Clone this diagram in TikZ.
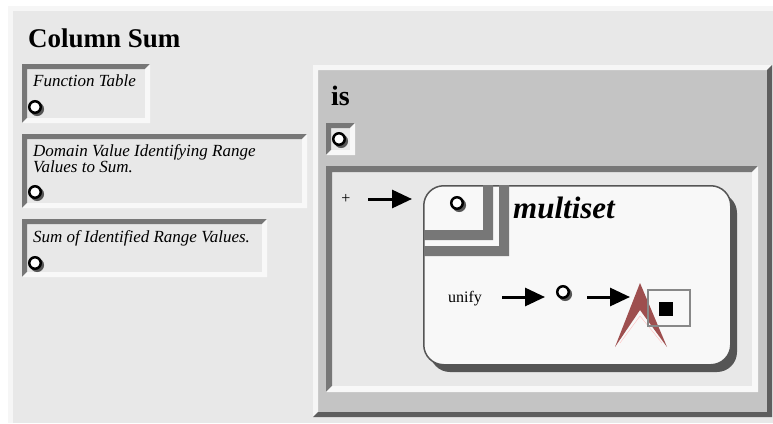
\documentclass[tikz,border=0pt]{standalone}
\usepackage{fontspec}
\setmainfont{Liberation Serif}
\usetikzlibrary{arrows.meta,shadows}

\definecolor{panelc}{HTML}{E8E8E8}
\definecolor{litec}{HTML}{F6F6F6}
\definecolor{darkc}{HTML}{777777}
\definecolor{deepc}{HTML}{5E5E5E}
\definecolor{isfill}{HTML}{C4C4C4}
\definecolor{boxfill}{HTML}{F8F8F8}
\definecolor{edgec}{HTML}{555555}
\definecolor{redc}{HTML}{9E4F4F}
\definecolor{sqc}{HTML}{888888}

% bevelled box: name, x1, y1, x2, y2, thickness, top-left colour, bottom-right colour, fill
\newcommand\bevel[9]{%
  \node[inner sep=0pt, outer sep=0pt, fill=#9, anchor=north west,
        minimum width={#4-#2}, minimum height={#5-#3}] (#1) at (#2,#3) {};
  \fill[#7] (#2,#5) -- (#2,#3) -- (#4,#3) -- (#4-#6,#3+#6)
            -- (#2+#6,#3+#6) -- (#2+#6,#5-#6) -- cycle;
  \fill[#8] (#4,#3) -- (#4,#5) -- (#2,#5) -- (#2+#6,#5-#6)
            -- (#4-#6,#5-#6) -- (#4-#6,#3+#6) -- cycle;
}

\tikzset{
  port/.style={circle, inner sep=0pt, minimum size=11.5pt, draw=black,
    line width=2.5pt, fill=white,
    drop shadow={shadow xshift=1.8pt, shadow yshift=-1.8pt, shadow scale=1.2,
                 fill=edgec, opacity=1}},
  label/.style={inner sep=0pt, anchor=base west},
  note/.style={label, font=\fontsize{17}{15}\selectfont\itshape},
  flow/.style={line width=3pt, -{Triangle[length=20pt,width=18pt]}},
}

\begin{document}
\begin{tikzpicture}[x=1pt,y=-1pt]
\useasboundingbox (0,0) rectangle (773,423);
\fill[white] (0,0) rectangle (773,423);

% outer raised panel
\fill[litec] (8,6) rectangle (773,423);
\fill[panelc] (13,11) rectangle (773,423);

\node[label, font=\fontsize{27}{27}\selectfont\bfseries] (title) at (28,47) {Column Sum};

% argument boxes on the left
\bevel{ftbox}{22}{64}{150}{123}{5}{darkc}{boxfill}{panelc}
\node[note] (ft) at (33,86) {Function Table};
\node[port] (ftport) at (35,107) {};

\bevel{dombox}{22}{134}{307}{208}{5}{darkc}{boxfill}{panelc}
\node[inner sep=0pt, anchor=north west, align=left,
      font=\fontsize{17}{15}\selectfont\itshape] (dom) at (33,144)
  {Domain Value Identifying Range\\Values to Sum.};
\node[port] (domport) at (35,192) {};

\bevel{sumbox}{22}{219}{267}{277}{5}{darkc}{boxfill}{panelc}
\node[note] (sum) at (33,242) {Sum of Identified Range Values.};
\node[port] (sumport) at (35,263) {};

% the "is" relation
\bevel{isbox}{313}{65}{772}{417}{5}{litec}{deepc}{isfill}
\node[label, font=\fontsize{28}{28}\selectfont\bfseries] (is) at (331,105) {is};

\bevel{isportbox}{326}{123}{355}{155}{5}{darkc}{boxfill}{panelc}
\node[port] (isport) at (339,139) {};

\bevel{body}{326}{166}{758}{392}{6}{darkc}{boxfill}{panelc}
\node[inner sep=0pt, font=\fontsize{16}{16}\selectfont] (plus) at (346,199) {+};

% multiset box with its shadow
\fill[edgec, rounded corners=20pt] (430,193) rectangle (737,372);
\node[draw=edgec, line width=1.5pt, fill=boxfill, rounded corners=20pt,
      anchor=north west, inner sep=0pt, minimum width=307pt, minimum height=179pt]
  (ms) at (423,185) {};
\fill[darkc] (483,185) -- (493,185) -- (493,240) -- (424,240) -- (424,230) -- (483,230) -- cycle;
\fill[darkc] (499,185) -- (509,185) -- (509,256) -- (424,256) -- (424,246) -- (499,246) -- cycle;
\node[port] (msport) at (457,203) {};
\node[label, font=\fontsize{31}{31}\selectfont\bfseries\itshape] (mstitle) at (513,218) {multiset};

\draw[flow, shorten <=22pt, shorten >=11pt] (plus.center) -- (plus.center -| ms.west);

% unify chain
\node[label, font=\fontsize{16}{16}\selectfont] (unify) at (448,302) {unify};
\node[port] (mid) at (563,292) {};
\coordinate (redtip) at (640,283);
\coordinate (row) at (465,297);

\fill[redc] (redtip) -- (667,347) -- (640,310) -- (615,347) -- cycle;
\draw[red!25!white, line width=0.4pt] (620,343) -- (640,316) -- (662,343);
\node[draw=sqc, line width=2pt, inner sep=0pt, minimum width=42pt, minimum height=36pt]
  (res) at (669,308) {};
\node[fill=black, inner sep=0pt, minimum size=14pt] (resport) at (666,309) {};

\draw[flow, shorten <=37pt, shorten >=18pt] (row) -- (row -| mid.center);
\draw[flow, shorten <=24pt, shorten >=10pt] (mid.center |- row) -- (row -| redtip);
\end{tikzpicture}
\end{document}
